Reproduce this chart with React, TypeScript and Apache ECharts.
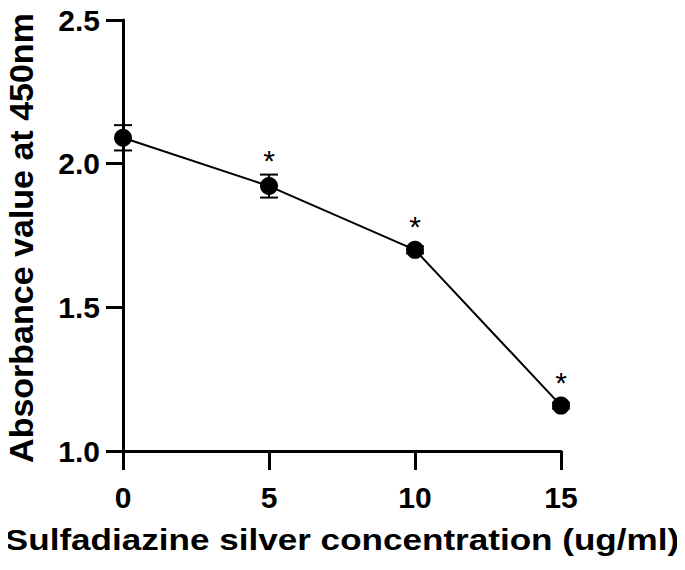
import React, { useEffect, useRef } from "react";
import * as echarts from "echarts";

const concentrations = [0, 5, 10, 15];
const absorbance = [2.09, 1.922, 1.70, 1.158];
const errors = [0.044, 0.04, 0.012, 0.01];
const significance = ["", "*", "*", "*"];
const yTicks = [1.0, 1.5, 2.0, 2.5];
const xTicks = [0, 5, 10, 15];
const xTitle = "Sulfadiazine silver concentration (ug/ml)";
const yTitle = "Absorbance value at 450nm";

const FONT = "'Liberation Sans', Arial, sans-serif";

export default function App() {
  const ref = useRef<HTMLDivElement>(null);
  useEffect(() => {
    if (!ref.current) return;
    const chart = echarts.init(ref.current, null, { renderer: "svg" });
    const pts = concentrations.map((c, i) => [c, absorbance[i]]);
    const errData = concentrations.map((c, i) => [c, absorbance[i], errors[i], i]);
    chart.setOption({
      animation: false,
      backgroundColor: "#fff",
      grid: { left: 123, right: 124, top: 20, bottom: 119, containLabel: false },
      graphic: [
        {
          type: "text",
          x: 342,
          y: 539,
          scaleX: 1.17,
          style: {
            text: xTitle,
            fontFamily: FONT,
            fontWeight: "bold",
            fontSize: 30,
            fill: "#000",
            align: "center",
            verticalAlign: "middle",
          },
        },
        {
          type: "text",
          x: 21,
          y: 238,
          rotation: Math.PI / 2,
          style: {
            text: yTitle,
            fontFamily: FONT,
            fontWeight: "bold",
            fontSize: 34,
            fill: "#000",
            align: "center",
            verticalAlign: "middle",
          },
        },
      ],
      xAxis: {
        type: "value",
        min: 0,
        max: 15,
        interval: 5,
        axisLine: { show: true, lineStyle: { color: "#000", width: 3 } },
        axisTick: { show: true, length: 19, lineStyle: { color: "#000", width: 3 } },
        axisLabel: {
          margin: 31,
          fontFamily: FONT,
          fontWeight: "bold",
          fontSize: 30,
          color: "#000",
          formatter: (v: number) => (xTicks.includes(v) ? String(v) : ""),
        },
        splitLine: { show: false },
      },
      yAxis: {
        type: "value",
        min: 1.0,
        max: 2.5,
        interval: 0.5,
        axisLine: { show: true, lineStyle: { color: "#000", width: 3 } },
        axisTick: { show: true, length: 17, lineStyle: { color: "#000", width: 3 } },
        axisLabel: {
          margin: 23,
          fontFamily: FONT,
          fontWeight: "bold",
          fontSize: 30,
          color: "#000",
          formatter: (v: number) => {
            const t = yTicks.find((y) => Math.abs(y - v) < 1e-9);
            return t !== undefined ? t.toFixed(1) : "";
          },
        },
        splitLine: { show: false },
      },
      series: [
        {
          type: "custom",
          z: 1,
          data: errData,
          renderItem: (params: any, api: any) => {
            const x = api.value(0);
            const y = api.value(1);
            const e = api.value(2);
            const idx = api.value(3);
            const top = api.coord([x, y + e]);
            const bot = api.coord([x, y - e]);
            const center = api.coord([x, y]);
            const half = 9;
            const style = { stroke: "#000", lineWidth: 2 };
            const children: any[] = [
              { type: "line", shape: { x1: top[0], y1: top[1], x2: bot[0], y2: bot[1] }, style },
              { type: "line", shape: { x1: top[0] - half, y1: top[1], x2: top[0] + half, y2: top[1] }, style },
              { type: "line", shape: { x1: bot[0] - half, y1: bot[1], x2: bot[0] + half, y2: bot[1] }, style },
            ];
            const sig = significance[idx];
            if (sig) {
              const upper = Math.min(top[1], center[1] - 9);
              children.push({
                type: "text",
                x: center[0],
                y: upper - 14,
                style: {
                  text: sig,
                  fill: "#000",
                  fontFamily: FONT,
                  fontSize: 30,
                  align: "center",
                  verticalAlign: "middle",
                },
              });
            }
            return { type: "group", children };
          },
        },
        {
          type: "line",
          z: 2,
          data: pts,
          symbol: "circle",
          symbolSize: 18,
          lineStyle: { color: "#000", width: 2 },
          itemStyle: { color: "#000" },
        },
      ],
    });
    return () => chart.dispose();
  }, []);
  return <div ref={ref} style={{ width: 685, height: 570, margin: -8 }} />;
}
